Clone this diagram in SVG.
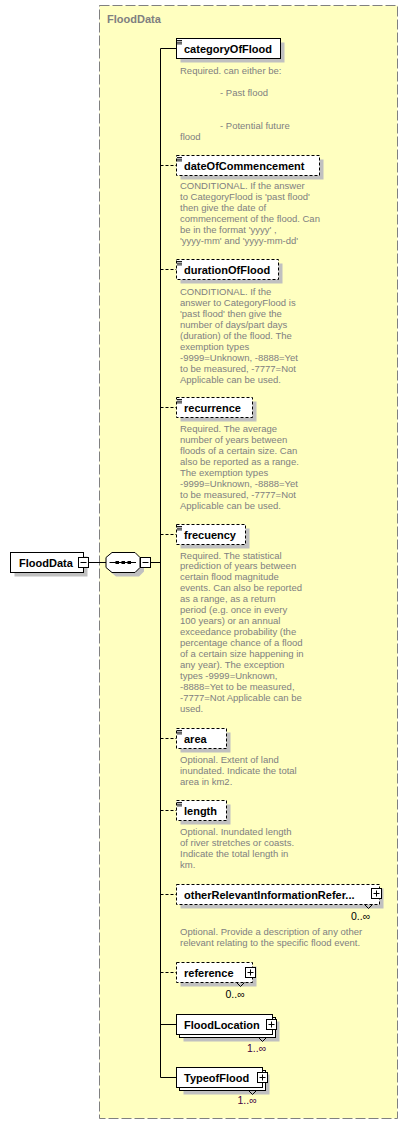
<svg xmlns="http://www.w3.org/2000/svg" width="408" height="1125" viewBox="0 0 408 1125">
<style>
.bg{fill:#ffffc0;stroke:#808080;stroke-width:1;stroke-dasharray:10,3}
.ttl{font-family:"Liberation Sans",Arial,sans-serif;font-size:11px;font-weight:bold;fill:#808080}
.box{fill:#fff;stroke:#000;stroke-width:1}
.opt{stroke-dasharray:3,2}
.sh{fill:#c0c0c0}
.n{font-family:"Liberation Sans",Arial,sans-serif;font-size:11px;font-weight:bold;fill:#000}
.d{font-family:"Liberation Sans",Arial,sans-serif;font-size:9.5px;fill:#808080}
.m{font-family:"Liberation Sans",Arial,sans-serif;font-size:10.5px;fill:#000}
.mp{fill:#400040}
.ln{stroke:#000;stroke-width:1;fill:none}
.dl{stroke-dasharray:3,2}
.ic{stroke:#000;stroke-width:0.9}
</style>
<defs>
<g id="doc"><path d="M177 40.5h5M177 42.2h5M177 43.9h5" class="ic"/></g>
<g id="plus"><rect x="0.5" y="0.5" width="10" height="10" class="box"/><path d="M2.5 5.5h6M5.5 2.5v6" class="ln"/></g>
<g id="minus"><rect x="0.5" y="0.5" width="10" height="10" class="box"/><path d="M2.5 5.5h6" class="ln"/></g>
</defs>
<rect class="bg" x="99.5" y="5.5" width="298" height="1113"/>
<text class="ttl" x="107" y="22.5">FloodData</text>

<g id="connectors">
<path class="ln" d="M88.5 562.5H106M150.5 562.5H160.5M160.5 48.5V1077.5"/>
<path class="ln" d="M160.5 48.5H176.5M160.5 1024.5H176.5M160.5 1077.5H176.5"/>
<path class="ln dl" d="M160.5 165.5H176.5M160.5 269.5H176.5M160.5 407.5H176.5M160.5 534.5H176.5M160.5 738.5H176.5M160.5 810.5H176.5M160.5 894.5H176.5M160.5 972.5H176.5"/>
</g>

<g id="root">
<rect class="sh" x="14.5" y="556.5" width="73" height="20"/>
<rect class="box" x="10.5" y="552.5" width="73" height="20"/>
<text class="n" x="19" y="566.5">FloodData</text>
<use href="#minus" x="78" y="557"/>
</g>

<g id="sequence">
<polygon class="sh" points="116,556.5 139,556.5 144,561.5 144,571.5 139,576.5 116,576.5 110,571.5 110,561.5"/>
<polygon class="box" points="112,552.5 135,552.5 140,557.5 140,567.5 135,572.5 112,572.5 106,567.5 106,557.5"/>
<path class="ln" d="M109.5 562.5H136"/>
<rect x="115.5" y="561" width="3.5" height="3" fill="#000"/>
<rect x="121.5" y="561" width="3.5" height="3" fill="#000"/>
<rect x="127.5" y="561" width="3.5" height="3" fill="#000"/>
<use href="#minus" x="140" y="557"/>
</g>

<g id="categoryOfFlood">
<rect class="sh" x="180.5" y="42.5" width="104" height="20"/>
<rect class="box" x="176.5" y="38.5" width="104" height="20"/>
<use href="#doc"/>
<text class="n" x="184" y="52.5">categoryOfFlood</text>
<text class="d"><tspan x="180" y="74">Required. can either be:</tspan><tspan x="220" y="96">- Past flood</tspan><tspan x="220" y="129">- Potential future</tspan><tspan x="180" y="140">flood</tspan></text>
</g>

<g id="dateOfCommencement">
<rect class="sh" x="180.5" y="159.5" width="143" height="20"/>
<rect class="box opt" x="176.5" y="155.5" width="143" height="20"/>
<use href="#doc" y="117"/>
<text class="n" x="184" y="169.5">dateOfCommencement</text>
<text class="d"><tspan x="180" y="189">CONDITIONAL. If the answer</tspan><tspan x="180" dy="11">to CategoryFlood is 'past flood'</tspan><tspan x="180" dy="11">then give the date of</tspan><tspan x="180" dy="11">commencement of the flood. Can</tspan><tspan x="180" dy="11">be in the format 'yyyy' ,</tspan><tspan x="180" dy="11">'yyyy-mm' and 'yyyy-mm-dd'</tspan></text>
</g>

<g id="durationOfFlood">
<rect class="sh" x="180.5" y="263.5" width="102" height="20"/>
<rect class="box opt" x="176.5" y="259.5" width="102" height="20"/>
<use href="#doc" y="221"/>
<text class="n" x="184" y="273.5">durationOfFlood</text>
<text class="d"><tspan x="180" y="294.5">CONDITIONAL. If the</tspan><tspan x="180" dy="11">answer to CategoryFlood is</tspan><tspan x="180" dy="11">'past flood' then give the</tspan><tspan x="180" dy="11">number of days/part days</tspan><tspan x="180" dy="11">(duration) of the flood. The</tspan><tspan x="180" dy="11">exemption types</tspan><tspan x="180" dy="11">-9999=Unknown, -8888=Yet</tspan><tspan x="180" dy="11">to be measured, -7777=Not</tspan><tspan x="180" dy="11">Applicable can be used.</tspan></text>
</g>

<g id="recurrence">
<rect class="sh" x="180.5" y="401.5" width="76" height="20"/>
<rect class="box opt" x="176.5" y="397.5" width="76" height="20"/>
<use href="#doc" y="359"/>
<text class="n" x="184" y="411.5">recurrence</text>
<text class="d"><tspan x="180" y="432">Required. The average</tspan><tspan x="180" dy="11">number of years between</tspan><tspan x="180" dy="11">floods of a certain size. Can</tspan><tspan x="180" dy="11">also be reported as a range.</tspan><tspan x="180" dy="11">The exemption types</tspan><tspan x="180" dy="11">-9999=Unknown, -8888=Yet</tspan><tspan x="180" dy="11">to be measured, -7777=Not</tspan><tspan x="180" dy="11">Applicable can be used.</tspan></text>
</g>

<g id="frecuency">
<rect class="sh" x="180.5" y="528.5" width="69" height="20"/>
<rect class="box opt" x="176.5" y="524.5" width="69" height="20"/>
<use href="#doc" y="486"/>
<text class="n" x="184" y="538.5">frecuency</text>
<text class="d"><tspan x="180" y="558.5">Required. The statistical</tspan><tspan x="180" dy="10.95">prediction of years between</tspan><tspan x="180" dy="10.95">certain flood magnitude</tspan><tspan x="180" dy="10.95">events. Can also be reported</tspan><tspan x="180" dy="10.95">as a range, as a return</tspan><tspan x="180" dy="10.95">period (e.g. once in every</tspan><tspan x="180" dy="10.95">100 years) or an annual</tspan><tspan x="180" dy="10.95">exceedance probability (the</tspan><tspan x="180" dy="10.95">percentage chance of a flood</tspan><tspan x="180" dy="10.95">of a certain size happening in</tspan><tspan x="180" dy="10.95">any year). The exception</tspan><tspan x="180" dy="10.95">types -9999=Unknown,</tspan><tspan x="180" dy="10.95">-8888=Yet to be measured,</tspan><tspan x="180" dy="10.95">-7777=Not Applicable can be</tspan><tspan x="180" dy="10.95">used.</tspan></text>
</g>

<g id="area">
<rect class="sh" x="180.5" y="732.5" width="50" height="20"/>
<rect class="box opt" x="176.5" y="728.5" width="50" height="20"/>
<use href="#doc" y="690"/>
<text class="n" x="184" y="742.5">area</text>
<text class="d"><tspan x="180" y="763">Optional. Extent of land</tspan><tspan x="180" dy="11">inundated. Indicate the total</tspan><tspan x="180" dy="11">area in km2.</tspan></text>
</g>

<g id="length">
<rect class="sh" x="180.5" y="804.5" width="50" height="20"/>
<rect class="box opt" x="176.5" y="800.5" width="50" height="20"/>
<use href="#doc" y="762"/>
<text class="n" x="184" y="814.5">length</text>
<text class="d"><tspan x="180" y="835">Optional. Inundated length</tspan><tspan x="180" dy="11">of river stretches or coasts.</tspan><tspan x="180" dy="11">Indicate the total length in</tspan><tspan x="180" dy="11">km.</tspan></text>
</g>

<g id="otherRelevantInformationReference">
<rect class="sh" x="180.5" y="888.5" width="203" height="20"/>
<rect class="box opt" x="176.5" y="884.5" width="203" height="20"/>
<text class="n" x="184" y="898.5">otherRelevantInformationRefer...</text>
<use href="#plus" x="371" y="888"/>
<path class="ln" d="M364.5 904.5L368.5 908.5L372.5 904.5" stroke="#000"/>
<text class="m" x="351" y="920">0..∞</text>
<text class="d"><tspan x="180" y="935">Optional. Provide a description of any other</tspan><tspan x="180" dy="11">relevant relating to the specific flood event.</tspan></text>
</g>

<g id="reference">
<rect class="sh" x="180.5" y="966.5" width="76" height="20"/>
<rect class="box opt" x="176.5" y="962.5" width="76" height="20"/>
<text class="n" x="184" y="976.5">reference</text>
<use href="#plus" x="245" y="967"/>
<path class="ln" d="M236.5 982.5L240.5 986.5L244.5 982.5"/>
<text class="m" x="225.5" y="997.5">0..∞</text>
</g>

<g id="FloodLocation">
<rect class="sh" x="183.5" y="1021.5" width="96" height="20"/>
<rect class="box" x="179.5" y="1017.5" width="96" height="20"/>
<rect class="box" x="176.5" y="1014.5" width="96" height="20"/>
<text class="n" x="184" y="1028.5">FloodLocation</text>
<use href="#plus" x="266" y="1019"/>
<path class="ln" d="M258.5 1037.5L262.5 1041.5L266.5 1037.5"/>
<text class="m mp" x="247" y="1051.5">1..∞</text>
</g>

<g id="TypeofFlood">
<rect class="sh" x="183.5" y="1074.5" width="86" height="20"/>
<rect class="box" x="179.5" y="1070.5" width="86" height="20"/>
<rect class="box" x="176.5" y="1067.5" width="86" height="20"/>
<text class="n" x="184" y="1081.5">TypeofFlood</text>
<use href="#plus" x="257" y="1072"/>
<path class="ln" d="M248.5 1090.5L252.5 1094.5L256.5 1090.5"/>
<text class="m mp" x="237.5" y="1104">1..∞</text>
</g>
</svg>
